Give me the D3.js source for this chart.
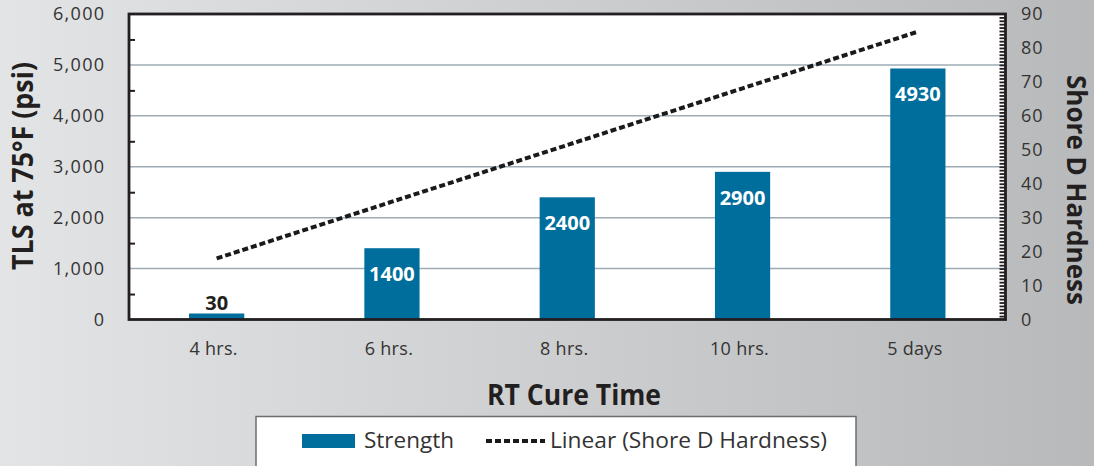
<!DOCTYPE html>
<html><head><meta charset="utf-8">
<script src="https://cdn.jsdelivr.net/npm/d3@7/dist/d3.min.js"></script>
<style>body{margin:0;overflow:hidden;} svg{display:block;}</style>
</head><body>
<svg id="c" width="1094" height="466"></svg>
<script>
const categories = ["4 hrs.", "6 hrs.", "8 hrs.", "10 hrs.", "5 days"];
const strength = [30, 1400, 2400, 2900, 4930];
const hardnessTrend = [18, 34.7, 51.4, 68.1, 84.8];
const leftTicks = [0, 1000, 2000, 3000, 4000, 5000, 6000];
const rightTicks = [0, 10, 20, 30, 40, 50, 60, 70, 80, 90];
const seriesNames = ["Strength", "Linear (Shore D Hardness)"];

const svg = d3.select("#c");
const W = 1094, H = 466;
const plot = {l: 129, r: 1005.5, t: 14, b: 319.5};
const barColor = "#006e9c";
const ink = "#231f20";
const font = "'Open Sans', sans-serif";

// background gradient
const defs = svg.append("defs");
const grad = defs.append("linearGradient").attr("id", "bg").attr("x1", 0).attr("x2", 1).attr("y1", 0).attr("y2", 0);
grad.append("stop").attr("offset", 0).attr("stop-color", "#e3e4e5");
grad.append("stop").attr("offset", 1).attr("stop-color", "#b8b9bb");
svg.append("rect").attr("width", W).attr("height", H).attr("fill", "url(#bg)");

const x = d3.scaleBand().domain(categories).range([plot.l, plot.r]).paddingInner(0.685).paddingOuter(0.3425);
const y = d3.scaleLinear().domain([0, 6000]).range([plot.b, plot.t]);
const yR = d3.scaleLinear().domain([0, 90]).range([plot.b, plot.t]);

// plot area
svg.append("rect").attr("x", plot.l).attr("y", plot.t).attr("width", plot.r - plot.l).attr("height", plot.b - plot.t).attr("fill", "#fff");

// gridlines
svg.append("g").selectAll("line").data(leftTicks.filter(d => d > 0 && d < 6000)).join("line")
  .attr("x1", plot.l).attr("x2", plot.r).attr("y1", d => y(d)).attr("y2", d => y(d))
  .attr("stroke", "#9eabb5").attr("stroke-width", 1.5);

// bars
const minVisible = 6;
svg.append("g").selectAll("rect").data(strength).join("rect")
  .attr("x", (d, i) => x(categories[i])).attr("width", x.bandwidth())
  .attr("y", d => Math.min(y(d), plot.b - minVisible))
  .attr("height", d => Math.max(plot.b - y(d), minVisible))
  .attr("fill", barColor);

// bar labels
svg.append("g").selectAll("text").data(strength).join("text")
  .attr("x", (d, i) => x(categories[i]) + x.bandwidth() / 2)
  .attr("y", d => (plot.b - y(d) > 40) ? y(d) + 33 : plot.b - 9.5)
  .attr("text-anchor", "middle")
  .attr("font-family", font).attr("font-weight", 700).attr("font-size", 20)
  .attr("fill", d => (plot.b - y(d) > 40) ? "#fff" : ink)
  .text(d => d);

// trendline
const line = d3.line().x((d, i) => x(categories[i]) + x.bandwidth() / 2).y(d => yR(d));
svg.append("path").datum(hardnessTrend).attr("d", line)
  .attr("fill", "none").attr("stroke", "#1a1a1a").attr("stroke-width", 4).attr("stroke-dasharray", "6,3");

// left minor ticks (inside)
svg.append("g").attr("transform", `translate(${plot.l},0)`)
  .call(d3.axisRight(y).tickValues(d3.range(500, 6000, 1000)).tickSize(6).tickFormat(""))
  .call(g => g.select(".domain").remove())
  .call(g => g.selectAll("line").attr("stroke", ink).attr("stroke-width", 2));

// right ticks (inside), every unit
svg.append("g").attr("transform", `translate(${plot.r},0)`)
  .call(d3.axisLeft(yR).tickValues(d3.range(1, 90, 1)).tickSize(6).tickFormat(""))
  .call(g => g.select(".domain").remove())
  .call(g => g.selectAll("line").attr("stroke", ink).attr("stroke-width", 1.8));

// frame
svg.append("rect").attr("x", plot.l).attr("y", plot.t).attr("width", plot.r - plot.l).attr("height", plot.b - plot.t)
  .attr("fill", "none").attr("stroke", ink).attr("stroke-width", 2.8);

// left tick labels
const fmt = d3.format(",");
svg.append("g").attr("transform", `translate(104,0)`)
  .call(d3.axisLeft(y).tickValues(leftTicks).tickSize(0).tickPadding(0).tickFormat(fmt))
  .call(g => g.select(".domain").remove())
  .call(g => g.selectAll("text").attr("font-family", font).attr("font-size", 18).attr("fill", "#333").attr("letter-spacing", 1.3).attr("dx", 1.3));

// right tick labels
svg.append("g").attr("transform", `translate(1021,0)`)
  .call(d3.axisRight(yR).tickValues(rightTicks).tickSize(0).tickPadding(0))
  .call(g => g.select(".domain").remove())
  .call(g => g.selectAll("text").attr("font-family", font).attr("font-size", 18).attr("fill", "#333").attr("letter-spacing", 1));

// x tick labels
svg.append("g").attr("transform", `translate(0,355)`)
  .call(d3.axisBottom(x).tickSize(0).tickPadding(0))
  .call(g => g.select(".domain").remove())
  .call(g => g.selectAll("text").attr("font-family", font).attr("font-size", 18).attr("fill", "#333").attr("dy", 0).attr("dx", -3).attr("letter-spacing", 0.3));

// titles
svg.append("text").attr("transform", "translate(33,166) rotate(-90)")
  .attr("text-anchor", "middle").attr("font-family", font).attr("font-weight", 700).attr("font-size", 29)
  .attr("fill", ink).attr("textLength", 208).attr("lengthAdjust", "spacingAndGlyphs").text("TLS at 75°F (psi)");
svg.append("text").attr("transform", "translate(1067,190) rotate(90)")
  .attr("text-anchor", "middle").attr("font-family", font).attr("font-weight", 700).attr("font-size", 26)
  .attr("fill", ink).attr("textLength", 230).attr("lengthAdjust", "spacingAndGlyphs").text("Shore D Hardness");
svg.append("text").attr("x", 574).attr("y", 405)
  .attr("text-anchor", "middle").attr("font-family", font).attr("font-weight", 700).attr("font-size", 28)
  .attr("fill", ink).attr("textLength", 174).attr("lengthAdjust", "spacingAndGlyphs").text("RT Cure Time");

// legend
const lg = svg.append("g");
lg.append("rect").attr("x", 256).attr("y", 416.5).attr("width", 600).attr("height", 70)
  .attr("fill", "#fff").attr("stroke", "#6d6e70").attr("stroke-width", 1.5);
lg.append("rect").attr("x", 302).attr("y", 434).attr("width", 53).attr("height", 14).attr("fill", barColor);
lg.append("text").attr("x", 364).attr("y", 448).attr("font-family", font).attr("font-size", 22.5).attr("fill", "#333")
  .attr("textLength", 90).attr("lengthAdjust", "spacingAndGlyphs").text(seriesNames[0]);
lg.append("line").attr("x1", 486).attr("x2", 545).attr("y1", 441).attr("y2", 441)
  .attr("stroke", "#1a1a1a").attr("stroke-width", 4).attr("stroke-dasharray", "6,3");
lg.append("text").attr("x", 550).attr("y", 448).attr("font-family", font).attr("font-size", 22.5).attr("fill", "#333")
  .attr("textLength", 277).attr("lengthAdjust", "spacingAndGlyphs").text(seriesNames[1]);
</script>
</body></html>
